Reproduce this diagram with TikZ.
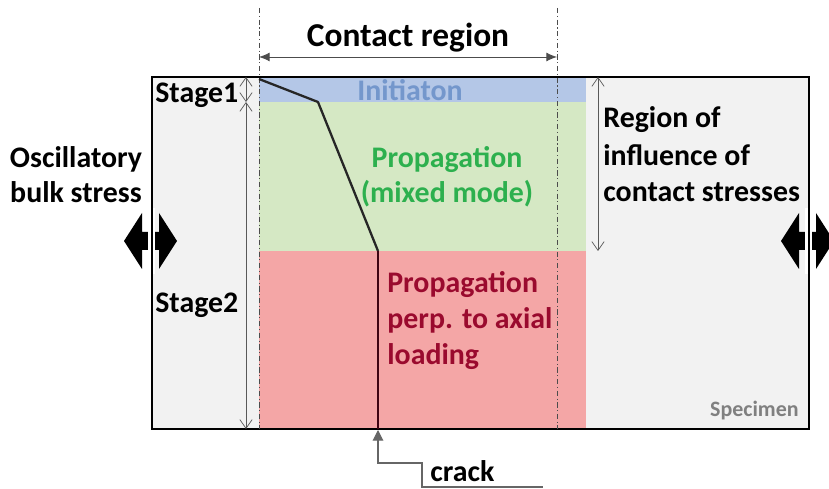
\documentclass[tikz,border=0pt]{standalone}
\usepackage{fontspec}
\setmainfont{Carlito}
\usetikzlibrary{arrows.meta,positioning}
\definecolor{specgray}{HTML}{F2F2F2}
\definecolor{initblue}{HTML}{B4C7E7}
\definecolor{mixgreen}{HTML}{D5E8C4}
\definecolor{perpred}{HTML}{F4A6A6}
\definecolor{inittext}{HTML}{7497CC}
\definecolor{mixtext}{HTML}{2DB04E}
\definecolor{perptext}{HTML}{9A0A2E}
\begin{document}
\begin{tikzpicture}[x=0.02cm,y=-0.02cm,
  lbl/.style={font=\fontsize{17}{20.5}\selectfont\bfseries,inner sep=0pt},
  stagedim/.style={gray!70!black,line width=0.4pt,{Straight Barb[length=5pt,width=7pt]}-{Straight Barb[length=5pt,width=7pt]}},
  blkarrow/.style={fill=black}]
\useasboundingbox (0,0) rectangle (829,489);
% specimen and the zones
\fill[specgray] (152,77) rectangle (809,429);
\fill[initblue] (259,77) rectangle (586,102);
\fill[mixgreen] (259,102) rectangle (586,251);
\fill[perpred] (259,251) rectangle (586,429);
\draw[line width=1pt] (152,77) rectangle (809,429);
% contact region
\draw[black!70,line width=0.4pt,dash pattern=on 3pt off 1.5pt on 0.6pt off 1.5pt] (259,8)--(259,429) (557,8)--(557,429);
\draw[black!70,line width=0.5pt,{Latex[length=6pt,width=5pt]}-{Latex[length=6pt,width=5pt]}] (259,57)--(557,57);
\node[lbl,font=\fontsize{19}{22}\selectfont\bfseries,anchor=base] (contact) at (408,47) {Contact region};
% stages
\draw[stagedim] (246,77)--(246,102);
\draw[stagedim] (246,102)--(246,429);
\node[lbl,anchor=base west] (stage1) at (155,103) {Stage1};
\node[lbl,anchor=base west] (stage2) at (155,313) {Stage2};
\draw[stagedim] (598,77)--(598,251);
% crack path
\draw[black!85,line width=1.3pt,line join=round] (259,79)--(318,102)--(378,251);
\draw[perptext!40!black,line width=1.3pt] (378,251)--(378,429);
% zone texts
\node[lbl,text=inittext,anchor=base] (init) at (410,101) {Initiaton};
\node[lbl,text=mixtext,anchor=base] (mix1) at (447,168) {Propagation};
\node[lbl,text=mixtext,anchor=base] (mix2) at (447,203) {(mixed mode)};
\node[lbl,text=perptext,anchor=base west] (perp1) at (387,293) {Propagation};
\node[lbl,text=perptext,anchor=base west] (perp2) at (387,329) {perp. to axial};
\node[lbl,text=perptext,anchor=base west] (perp3) at (387,365) {loading};
\node[lbl,anchor=base west] (reg1) at (603,128) {Region of};
\node[lbl,anchor=base west] (reg2) at (603,166) {influence of};
\node[lbl,anchor=base west] (reg3) at (603,202) {contact stresses};
\node[lbl,anchor=base] (osc1) at (76,168) {Oscillatory};
\node[lbl,anchor=base] (osc2) at (76,203) {bulk stress};
\node[lbl,font=\fontsize{12.5}{15}\selectfont\bfseries,text=black!50,anchor=base east] (spec) at (799,417) {Specimen};
% bulk stress arrows
\foreach \cx in {151,808}{
  \fill[blkarrow] (\cx-27,241)--(\cx-9,213)--(\cx-9,232)--(\cx+8,232)--(\cx+8,213)--(\cx+26,241)
    --(\cx+8,269)--(\cx+8,250)--(\cx-9,250)--(\cx-9,269)--cycle;
  \fill[white] (\cx-3,208) rectangle (\cx+4,274);
  \draw[line width=1pt] (\cx+1,205)--(\cx+1,278);
}
% crack label
\coordinate (tip) at (378,430);
\node[lbl,anchor=base west] (crack) at (430,482) {crack};
\draw[black!60,line width=0.6pt,{Triangle[length=6pt,width=6pt]}-] (tip)--(378,463)--(422,463)--(422,487)--(543,487);
\end{tikzpicture}
\end{document}
